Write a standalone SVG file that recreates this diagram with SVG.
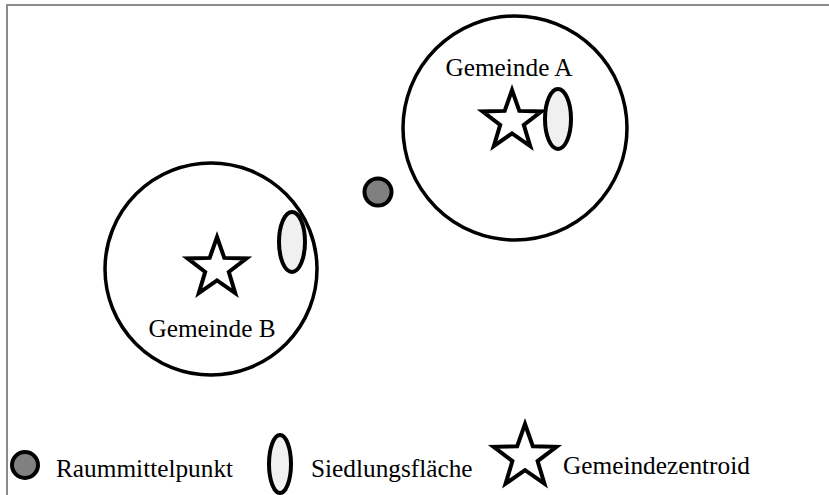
<svg xmlns="http://www.w3.org/2000/svg" width="829" height="495" viewBox="0 0 829 495">
  <defs>
    <style>
      .frame { fill: none; stroke: #8c8c8c; stroke-width: 2; }
      .region { fill: none; stroke: #000; stroke-width: 3.5; }
      .centroid { fill: #fff; stroke: #000; stroke-width: 4; stroke-linejoin: miter; }
      .settlement { fill: #f0f0f0; stroke: #000; stroke-width: 4; }
      .midpoint { fill: #808080; stroke: #000; stroke-width: 4; }
      .label { font-family: "Liberation Serif", "Times New Roman", serif; font-size: 25.3px; fill: #000; }
    </style>
    <!-- five-pointed star, outer radius 31, centred on the origin -->
    <polygon id="star" points="0,-31 7.3,-10.1 29.5,-9.6 11.8,3.9 18.2,25.1 0,12.4 -18.2,25.1 -11.8,3.9 -29.5,-9.6 -7.3,-10.1"/>
    <!-- larger star for the key -->
    <polygon id="star-key" points="0,-33 7.8,-10.8 31.4,-10.2 12.6,4.1 19.4,26.7 0,13.2 -19.4,26.7 -12.6,4.1 -31.4,-10.2 -7.8,-10.8"/>
  </defs>

  <!-- frame -->
  <path class="frame" d="M7,495 V5 H829"/>

  <g id="gemeinde-a">
    <circle class="region" cx="515" cy="128" r="112"/>
    <text class="label" x="509" y="76" text-anchor="middle">Gemeinde A</text>
    <use href="#star" class="centroid" x="512" y="121"/>
    <ellipse class="settlement" cx="558" cy="119" rx="13" ry="30"/>
  </g>

  <g id="gemeinde-b">
    <circle class="region" cx="211" cy="269" r="106"/>
    <text class="label" x="212" y="337" text-anchor="middle">Gemeinde B</text>
    <use href="#star" class="centroid" x="217" y="268"/>
    <ellipse class="settlement" cx="292" cy="242" rx="13" ry="30"/>
  </g>

  <g id="raummittelpunkt">
    <circle class="midpoint" cx="378" cy="192" r="13.5"/>
  </g>

  <g id="legende">
    <circle class="midpoint" cx="25" cy="465" r="13"/>
    <text class="label" x="56" y="477">Raummittelpunkt</text>
    <ellipse class="settlement" cx="280" cy="464" rx="11" ry="29"/>
    <text class="label" x="311" y="477">Siedlungsfläche</text>
    <use href="#star-key" class="centroid" x="525" y="457"/>
    <text class="label" x="563" y="474">Gemeindezentroid</text>
  </g>
</svg>
